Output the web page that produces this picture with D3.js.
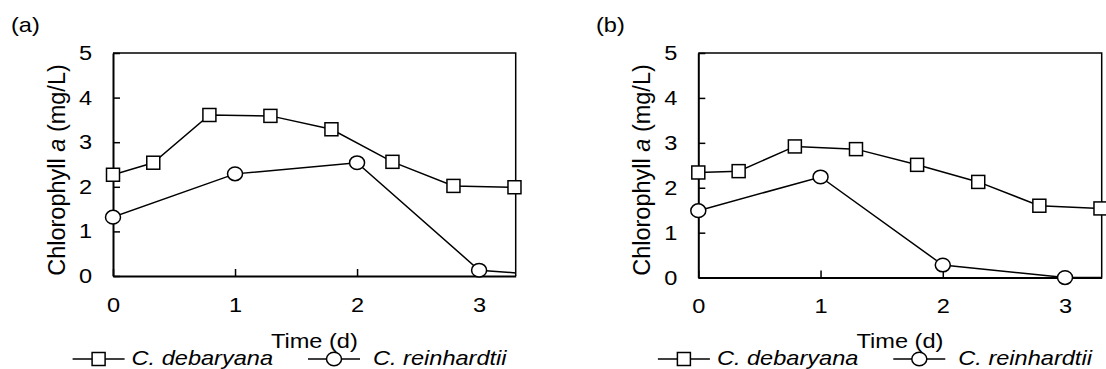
<!DOCTYPE html>
<html>
<head>
<meta charset="utf-8">
<script src="https://cdn.jsdelivr.net/npm/d3@7"></script>
<style>
  body { margin: 0; background: #fff; }
  svg { display: block; font-family: Arial, "Liberation Sans", sans-serif; }
</style>
</head>
<body>
<svg id="chart" width="1106" height="369"></svg>
<script>
// time in days, chlorophyll a in mg/L
var debTime = [0, 0.33, 0.79, 1.29, 1.79, 2.29, 2.79, 3.29];
var debA = [2.27, 2.54, 3.61, 3.59, 3.29, 2.56, 2.02, 1.99];
var debB = [2.34, 2.37, 2.92, 2.86, 2.51, 2.13, 1.60, 1.54];

// last point lies past the axis end, only its line shows
var reiTimeA = [0, 1, 2, 3, 3.5];
var reiA = [1.32, 2.29, 2.54, 0.13, 0.03];
var reiTimeB = [0, 1, 2, 3, 3.5];
var reiB = [1.49, 2.24, 0.28, 0.0, 0.0];

var xTicks = [0, 1, 2, 3];
var yTicks = [0, 1, 2, 3, 4, 5];
var panelLabels = ['(a)', '(b)'];
var seriesNames = ['C. debaryana', 'C. reinhardtii'];
var xTitle = 'Time (d)';

var fs = 20.5,
    sx = 1.15;

var panels = [
    {label: panelLabels[0], left: 113, right: 515.7, top: 53, bottom: 276, lx: 11,
     deb: d3.zip(debTime, debA), rei: d3.zip(reiTimeA, reiA)},
    {label: panelLabels[1], left: 698.3, right: 1101.7, top: 53, bottom: 277.6, lx: 596,
     deb: d3.zip(debTime, debB), rei: d3.zip(reiTimeB, reiB)}
];

var svg = d3.select('#chart');

function stretchText(g, x, y, txt) {
    return g.append('text')
        .attr('transform', 'translate(' + x + ',' + y + ') scale(' + sx + ',1)')
        .attr('font-size', fs)
        .text(txt);
}

function square(g, cx, cy) {
    g.append('rect')
        .attr('x', cx - 6.5).attr('y', cy - 6.5)
        .attr('width', 13).attr('height', 13)
        .attr('fill', '#fff').attr('stroke', '#000').attr('stroke-width', 1.5);
}

function circle(g, cx, cy) {
    g.append('ellipse')
        .attr('cx', cx).attr('cy', cy)
        .attr('rx', 7.5).attr('ry', 6.8)
        .attr('fill', '#fff').attr('stroke', '#000').attr('stroke-width', 1.5);
}

panels.forEach(function(p, i) {
    var g = svg.append('g');
    var x = d3.scaleLinear().domain([0, 3.3]).range([p.left, p.right]);
    var y = d3.scaleLinear().domain([0, 5]).range([p.bottom, p.top]);

    stretchText(g, p.lx, 32, p.label);

    // frame top and right
    g.append('path')
        .attr('d', 'M' + p.left + ',' + p.top + 'H' + p.right + 'V' + p.bottom)
        .attr('fill', 'none').attr('stroke', '#000').attr('stroke-width', 1.5);

    var yAxis = g.append('g')
        .attr('transform', 'translate(' + p.left + ',0)')
        .call(d3.axisLeft(y).tickValues(yTicks).tickFormat(d3.format('d'))
            .tickSizeInner(-7).tickSizeOuter(0).tickPadding(21));
    var xAxis = g.append('g')
        .attr('transform', 'translate(0,' + p.bottom + ')')
        .call(d3.axisBottom(x).tickValues(xTicks).tickFormat(d3.format('d'))
            .tickSizeInner(-7).tickSizeOuter(0).tickPadding(21));

    [yAxis, xAxis].forEach(function(a) {
        a.attr('font-family', null).attr('font-size', fs);
        a.select('.domain').attr('stroke-width', 2);
        a.selectAll('.tick line').attr('stroke-width', 1.5);
    });
    yAxis.selectAll('.tick text')
        .attr('x', null)
        .attr('transform', 'translate(-21,0) scale(' + sx + ',1)');
    xAxis.selectAll('.tick text')
        .attr('y', null)
        .attr('transform', 'translate(0,21) scale(' + sx + ',1)');

    // y title
    var yt = g.append('text')
        .attr('transform', 'translate(' + (p.left - 48) + ',' + 170 + ') rotate(-90)')
        .attr('text-anchor', 'middle')
        .attr('font-size', 23.5);
    yt.append('tspan').text('Chlorophyll ');
    yt.append('tspan').attr('font-style', 'italic').text('a');
    yt.append('tspan').text(' (mg/L)');

    stretchText(g, (p.left + p.right) / 2, 348, xTitle).attr('text-anchor', 'middle');

    // series
    var clipId = 'clip' + i;
    g.append('clipPath').attr('id', clipId)
        .append('rect')
        .attr('x', p.left).attr('y', p.top - 10)
        .attr('width', p.right - p.left).attr('height', p.bottom - p.top + 20);

    var line = d3.line()
        .x(function(d) { return x(d[0]); })
        .y(function(d) { return y(d[1]); });

    [p.deb, p.rei].forEach(function(data) {
        g.append('path')
            .datum(data)
            .attr('d', line)
            .attr('clip-path', 'url(#' + clipId + ')')
            .attr('fill', 'none').attr('stroke', '#000').attr('stroke-width', 1.5);
    });

    p.deb.forEach(function(d) {
        if (d[0] <= 3.3) square(g, x(d[0]), y(d[1]));
    });
    p.rei.forEach(function(d) {
        if (d[0] <= 3.3) circle(g, x(d[0]), y(d[1]));
    });

    // legend
    var ly = 359,
        l0 = p.left - 40.4,
        l1 = p.left + 195;
    g.append('line').attr('x1', l0).attr('x2', l0 + 52).attr('y1', ly).attr('y2', ly)
        .attr('stroke', '#000').attr('stroke-width', 1.5);
    square(g, l0 + 26, ly);
    stretchText(g, l0 + 59, 365, seriesNames[0]).attr('font-style', 'italic');

    g.append('line').attr('x1', l1).attr('x2', l1 + 52).attr('y1', ly).attr('y2', ly)
        .attr('stroke', '#000').attr('stroke-width', 1.5);
    circle(g, l1 + 26, ly);
    stretchText(g, l1 + 65, 365, seriesNames[1]).attr('font-style', 'italic');
});
</script>
</body>
</html>
